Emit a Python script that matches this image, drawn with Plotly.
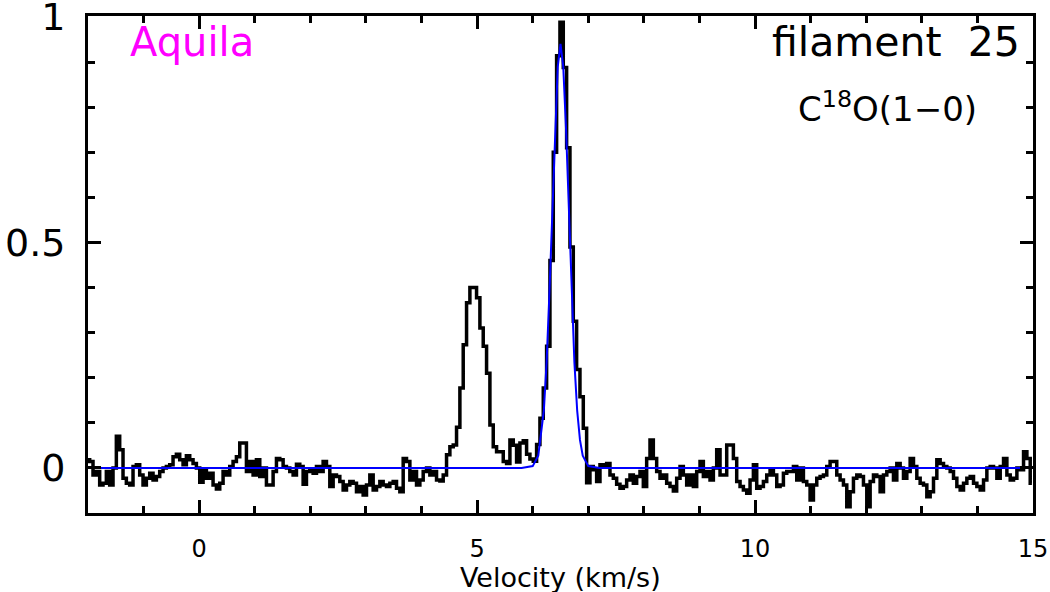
import numpy as np
import plotly.graph_objects as go

# spectrum channels: start velocity and channel width (km/s)
v_start = -2.0
dv = 0.06

# brightness (normalised)
tb_m2_to_0p8 = [0.018, 0.014, -0.016, -0.008, -0.038, -0.034, -0.008, -0.038, 0.0, 0.07,
                0.04, -0.023, -0.034, -0.038, 0.003, 0.007, -0.016, -0.038, -0.023, -0.012,
                -0.027, -0.019, -0.008, 0.0, 0.003, 0.007, 0.025, 0.03, 0.018, 0.007,
                0.027, 0.018, 0.01, 0.0, -0.032, -0.004, -0.023, -0.012, -0.038, -0.047,
                -0.034, -0.008, -0.016, 0.003, 0.014, 0.025, 0.055, 0.055]
tb_0p9_to_3p7 = [-0.008, 0.014, -0.016, 0.018, -0.019, 0.0, -0.038, -0.038, -0.008, 0.021,
                 0.018, 0.003, 0.0, -0.008, -0.016, 0.008, 0.003, -0.036, -0.008, -0.004,
                 -0.012, 0.003, -0.008, 0.014, 0.003, -0.041, -0.016, -0.019, -0.03, -0.049,
                 -0.038, -0.03, -0.034, -0.053, -0.041, -0.06, -0.038, -0.016, -0.049, -0.041,
                 -0.03, -0.038, -0.041, -0.034, -0.03, -0.045, -0.053, 0.021]
tb_3p8_to_4p6 = [0.014, -0.027, -0.008, -0.038, -0.027, -0.008, 0.0, -0.016, -0.008, -0.027,
                 -0.029, -0.016, 0.029, 0.047, 0.051]
tb_lines = [0.09, 0.177, 0.273, 0.366, 0.40, 0.40, 0.377, 0.31, 0.27, 0.21,
            0.095, 0.047, 0.036, 0.036, 0.014, 0.01, 0.062, 0.05, 0.013, 0.055,
            0.06, 0.03, 0.02, 0.015, 0.052, 0.11, 0.177, 0.27, 0.46, 0.70,
            0.914, 0.988, 0.888, 0.71, 0.49, 0.325, 0.218, 0.158, 0.088, -0.033]
tb_7p1_to_9p4 = [0.003, -0.004, -0.03, 0.007, 0.003, 0.01, -0.016, -0.023, -0.036, -0.045,
                 -0.041, -0.027, -0.016, -0.034, -0.019, -0.008, -0.041, 0.021, 0.062, 0.021,
                 -0.008, -0.023, -0.016, -0.034, -0.041, -0.051, -0.023, 0.003, -0.016, -0.038,
                 -0.016, -0.041, -0.008, 0.014, -0.019, -0.008, -0.027, 0.0, 0.04, -0.016]
tb_9p5_to_12p3 = [-0.016, 0.051, 0.051, 0.021, -0.03, -0.041, -0.049, -0.056, -0.027, 0.007,
                  -0.045, -0.041, -0.03, -0.016, -0.004, -0.016, -0.041, -0.038, -0.012, -0.008,
                  -0.008, 0.003, -0.027, 0.0, -0.03, -0.038, -0.071, -0.038, -0.023, -0.019,
                  -0.016, 0.003, 0.014, 0.014, -0.016, -0.027, -0.038, -0.086, -0.053, -0.023,
                  -0.016, -0.019, -0.038, -0.086, -0.03, -0.016, -0.019, -0.053]
tb_12p3_to_15 = [-0.016, -0.008, 0.0, -0.027, 0.01, 0.0, -0.023, -0.008, 0.021, 0.003,
                 -0.023, -0.034, -0.038, -0.064, -0.053, -0.023, 0.018, 0.01, 0.003, 0.0,
                 -0.008, -0.023, -0.041, -0.049, -0.034, -0.023, -0.019, -0.034, -0.041, -0.049,
                 -0.027, 0.0, 0.003, 0.0, -0.023, 0.003, 0.021, -0.016, -0.027, -0.023,
                 0.0, -0.004, 0.036, 0.021, -0.034]

# fitted profile (blue)
fit_v = [-2.0, 5.8, 6.0, 6.1, 6.2, 6.25, 6.3, 6.35, 6.4, 6.45, 6.5, 6.55,
         6.6, 6.65, 6.7, 6.75, 6.8, 6.85, 6.9, 7.0, 7.2, 15.0]
fit_t = [0.0, 0.0, 0.004, 0.027, 0.127, 0.234, 0.386, 0.57, 0.75, 0.889, 0.94, 0.889,
         0.75, 0.57, 0.386, 0.234, 0.127, 0.062, 0.027, 0.004, 0.0, 0.0]

x_ticks = [0, 5, 10, 15]
y_ticks = [0, 0.5, 1]
y_ticktext = ["0", "0.5", "1"]

tb = (tb_m2_to_0p8 + tb_0p9_to_3p7 + tb_3p8_to_4p6 + tb_lines
      + tb_7p1_to_9p4 + tb_9p5_to_12p3 + tb_12p3_to_15)
vel = v_start + dv * np.arange(len(tb))

FONT = "DejaVu Sans"

fig = go.Figure()
fig.add_trace(go.Scatter(
    x=vel, y=tb, mode="lines",
    line=dict(color="black", width=3.5, shape="hvh"),
    hoverinfo="skip"
))
fig.add_trace(go.Scatter(
    x=fit_v, y=fit_t, mode="lines",
    line=dict(color="#0000ff", width=2),
    hoverinfo="skip"
))

axis_common = dict(
    showline=True, linecolor="black", linewidth=3, mirror="ticks",
    ticks="inside", ticklen=13, tickwidth=2.5, tickcolor="black",
    showgrid=False, zeroline=False, automargin=False,
    ticklabeloverflow="allow",
)
fig.update_xaxes(
    range=[-2, 15], tickvals=x_ticks,
    tickfont=dict(family=FONT, size=24, color="black"),
    minor=dict(dtick=1, ticks="inside", ticklen=7, tickwidth=2.5, tickcolor="black", showgrid=False),
    ticklabelstandoff=12,
    **axis_common
)
fig.update_yaxes(
    range=[-0.1, 1.002], tickvals=y_ticks, ticktext=y_ticktext,
    tickfont=dict(family=FONT, size=38, color="black"),
    minor=dict(dtick=0.1, ticks="inside", ticklen=7, tickwidth=2.5, tickcolor="black", showgrid=False),
    ticklabelstandoff=12,
    **axis_common
)

fig.add_annotation(x=-1.28, y=0.944, xref="x", yref="y", text="Aquila",
                   xanchor="left", yanchor="middle", showarrow=False,
                   font=dict(family=FONT, size=40, color="#ff00ff"))
fig.add_annotation(x=14.8, y=0.944, xref="x", yref="y", text="filament  25",
                   xanchor="right", yanchor="middle", showarrow=False,
                   font=dict(family=FONT, size=41, color="black"))
fig.add_annotation(x=12.39, y=0.80, xref="x", yref="y", text="C<sup>18</sup>O(1−0)",
                   xanchor="center", yanchor="middle", showarrow=False,
                   font=dict(family=FONT, size=34, color="black"))
fig.add_annotation(x=0.5, y=-0.129, xref="paper", yref="paper", text="Velocity (km/s)",
                   xanchor="center", yanchor="middle", showarrow=False,
                   font=dict(family=FONT, size=27, color="black"))

fig.update_layout(
    width=1050, height=592,
    margin=dict(l=88, r=17, t=16, b=79),
    paper_bgcolor="white", plot_bgcolor="white",
    showlegend=False,
)
# page body has a default 8px margin; drop it so the figure sits at the window origin
fig.write_html("out.html", config={"displayModeBar": False},
               post_script="document.body.style.margin='0';")
